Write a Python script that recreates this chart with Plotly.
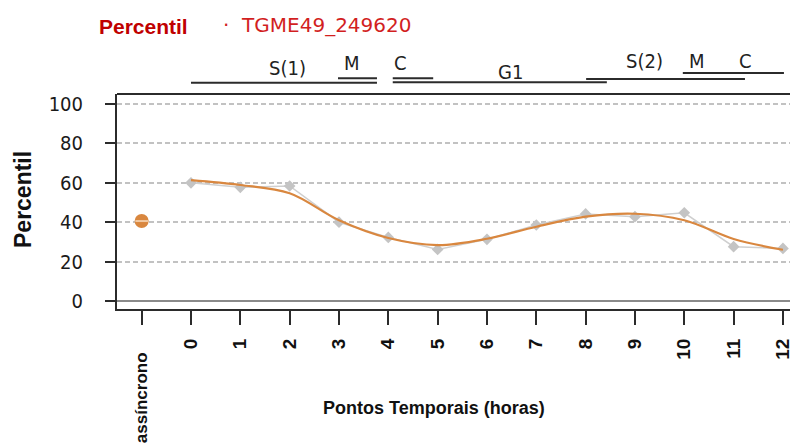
import plotly.graph_objects as go

# ---- data ----
categories = ["assíncrono"] + [str(h) for h in range(13)]
hours = list(range(13))
async_pos = -1
percentil = [60.0, 57.7, 58.4, 40.0, 32.3, 26.2, 31.3, 38.6, 44.2, 42.8, 44.8, 27.6, 26.7]
smooth = [61.4, 58.9, 54.7, 41.0, 32.0, 28.4, 31.6, 37.7, 42.8, 44.3, 41.0, 31.5, 26.0]
async_value = 40.6
y_ticks = [0, 20, 40, 60, 80, 100]

ORANGE = "#D9873F"
GRAY = "#C4C4C4"
DARK = "#2b2b2b"
COND = "DejaVu Sans Condensed, DejaVu Sans, sans-serif"

# the page adds an 8px body margin; lay out in page pixels and shift
OFF = 8
PAGE_W, PAGE_H = 798, 447
W, H = PAGE_W - OFF, PAGE_H - OFF
pl, pt, pb = 117 - OFF, 94 - OFF, 309 - OFF
pw, ph = W - pl, pb - pt


def px(xp):
    return (xp - OFF - pl) / pw


def py(yp):
    return (pb - (yp - OFF)) / ph


# phase bars (hour units, page-pixel rows of the header)
phase_segments = [
    (0.00, 3.77, 82.7),
    (2.98, 3.77, 78.3),
    (4.09, 4.91, 78.3),
    (4.09, 8.43, 82.3),
    (8.01, 11.23, 79.0),
    (9.97, 12.02, 73.0),
]
phase_labels = [
    ("S(1)", 1.96, 67.5),
    ("M", 3.27, 63.5),
    ("C", 4.24, 63.5),
    ("G1", 6.47, 71.5),
    ("S(2)", 9.20, 60.5),
    ("M", 10.26, 60.5),
    ("C", 11.25, 60.5),
]

fig = go.Figure()

fig.add_trace(go.Scatter(
    x=hours, y=percentil, mode="lines+markers",
    line=dict(color="#CFCFCF", width=1.5),
    marker=dict(symbol="diamond", size=9, color=GRAY),
    showlegend=False, hoverinfo="skip"))

fig.add_trace(go.Scatter(
    x=hours, y=smooth, mode="lines",
    line=dict(color=ORANGE, width=2.2, shape="spline", smoothing=1.0),
    showlegend=False, hoverinfo="skip"))

fig.add_trace(go.Scatter(
    x=[async_pos], y=[async_value], mode="markers",
    marker=dict(symbol="circle", size=14, color=ORANGE),
    showlegend=False, hoverinfo="skip"))
fig.add_trace(go.Scatter(
    x=[async_pos], y=[async_value], mode="markers",
    marker=dict(symbol="line-ew", size=9, line=dict(color="#F2C9A2", width=2)),
    showlegend=False, hoverinfo="skip"))

shapes = []
for x0, x1, yrow in phase_segments:
    shapes.append(dict(type="line", xref="x", yref="paper", x0=x0, x1=x1,
                       y0=py(yrow), y1=py(yrow), line=dict(color=DARK, width=2)))
shapes.append(dict(type="line", xref="paper", yref="paper", x0=0, x1=1, y0=1, y1=1,
                   line=dict(color=DARK, width=2)))

annotations = []
for txt, xh, yrow in phase_labels:
    annotations.append(dict(text=txt, x=xh, y=py(yrow), xref="x", yref="paper",
                            xanchor="center", yanchor="middle", showarrow=False,
                            font=dict(family=COND, size=20, color="#222")))

annotations += [
    dict(text="<b>Percentil</b>", x=px(97), y=py(27), xref="paper", yref="paper",
         xanchor="left", yanchor="middle", showarrow=False,
         font=dict(family="Arial, Liberation Sans", size=21, color="#C00000")),
    dict(text="·  TGME49_249620", x=px(221), y=py(25), xref="paper", yref="paper",
         xanchor="left", yanchor="middle", showarrow=False,
         font=dict(family="DejaVu Sans, sans-serif", size=20, color="#D21F1F")),
    dict(text="<b>Percentil</b>", x=px(23), y=py(200), xref="paper", yref="paper",
         xanchor="center", yanchor="middle", textangle=-90, showarrow=False,
         font=dict(family="Arial, Liberation Sans", size=23, color="#111")),
    dict(text="<b>Pontos Temporais (horas)</b>", x=px(434), y=py(408), xref="paper", yref="paper",
         xanchor="center", yanchor="middle", showarrow=False,
         font=dict(family="Arial, Liberation Sans", size=18, color="#111")),
    dict(text="<b>" + categories[0] + "</b>", x=async_pos, y=py(350), xref="x", yref="paper",
         xanchor="center", yanchor="top", textangle=-90, showarrow=False,
         font=dict(family="Arial, Liberation Sans", size=17, color="#111")),
]

fig.update_layout(
    width=W, height=H,
    margin=dict(l=pl, r=0, t=pt, b=H - pb, pad=0),
    plot_bgcolor="white", paper_bgcolor="white",
    shapes=shapes,
    annotations=annotations,
)
fig.update_xaxes(
    automargin=False,
    range=[-1.5, 12.305],
    tickmode="array", tickvals=[async_pos] + hours, ticktext=[""] + categories[1:],
    tickangle=-90, ticks="outside", ticklen=14, tickwidth=2, tickcolor=DARK,
    tickfont=dict(family="Arial, Liberation Sans", size=19, color="#111", weight="bold"),
    ticklabelstandoff=6,
    showgrid=False, zeroline=False,
    showline=True, linecolor=DARK, linewidth=2,
)
fig.update_yaxes(
    automargin=False,
    range=[-4.06, 105.1],
    tickmode="array", tickvals=y_ticks, ticks="outside", ticklen=10, tickwidth=2, tickcolor=DARK,
    tickfont=dict(family=COND, size=20, color="#1a1a1a"),
    ticklabelstandoff=18,
    showgrid=True, gridcolor="#C2C2C2", gridwidth=1.5, griddash="5px,3px",
    zeroline=True, zerolinecolor="#8a8a8a", zerolinewidth=1.5,
    showline=True, linecolor=DARK, linewidth=2,
)

fig.write_html("out.html")
